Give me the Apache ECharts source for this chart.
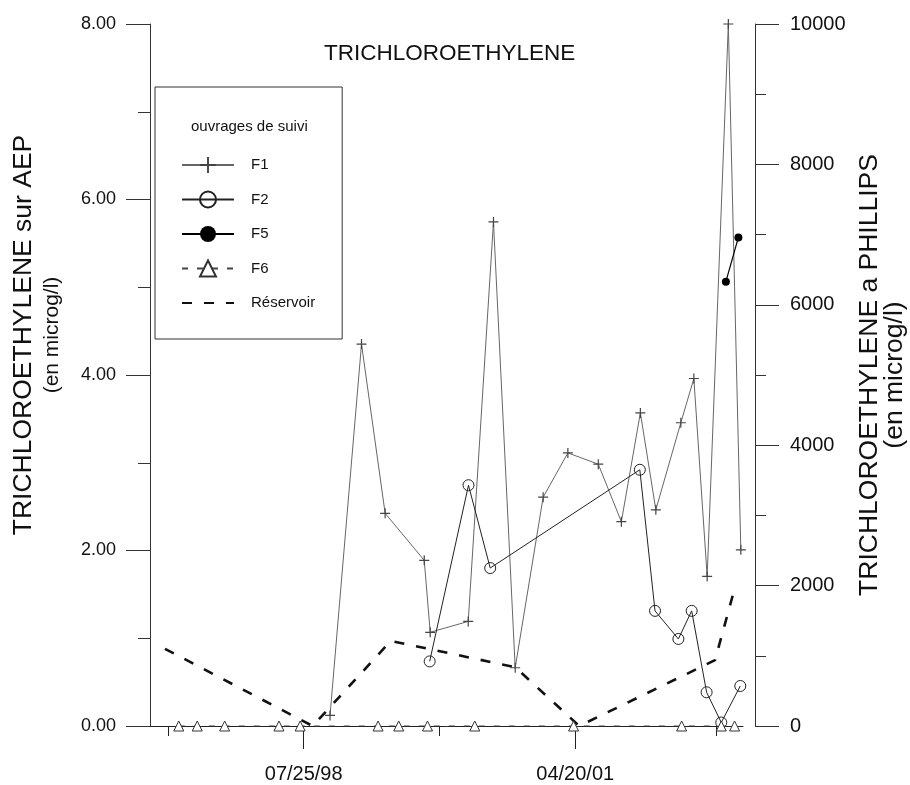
<!DOCTYPE html>
<html>
<head>
<meta charset="utf-8">
<script src="https://cdn.jsdelivr.net/npm/echarts@6/dist/echarts.min.js"></script>
<style>
  html, body { margin: 0; padding: 0; background: #fff; }
  #chart { width: 910px; height: 785px; }
</style>
</head>
<body>
<div id="chart"></div>
<script>
// Monitoring wells (µg/l, Phillips scale on the right axis)
const f1Dates = ['1998-10-30', '1999-02-23', '1999-05-21', '1999-10-12', '1999-11-03', '2000-03-22',
                 '2000-06-23', '2000-09-11', '2000-12-23', '2001-03-24', '2001-07-14', '2001-10-07',
                 '2001-12-16', '2002-02-11', '2002-05-14', '2002-07-01', '2002-08-19', '2002-11-05',
                 '2002-12-21'];
const f1Values = [150, 5440, 3030, 2360, 1335, 1490, 7180, 830, 3260, 3890, 3730, 2910,
                  4460, 3080, 4320, 4950, 2130, 10000, 2510];

const f2Dates = ['1999-11-01', '2000-03-23', '2000-06-11', '2001-12-14', '2002-02-08', '2002-05-05',
                 '2002-06-23', '2002-08-17', '2002-10-10', '2002-12-19'];
const f2Values = [920, 3430, 2250, 3650, 1640, 1240, 1640, 480, 50, 570];

const f5Dates = ['2002-10-27', '2002-12-12'];
const f5Values = [6330, 6960];

const f6Dates = ['1997-04-21', '1997-06-28', '1997-10-07', '1998-04-25', '1998-07-12', '1999-04-25',
                 '1999-07-10', '1999-10-24', '2000-04-15', '2001-04-14', '2002-05-17', '2002-10-10',
                 '2002-11-28'];
const f6Values = [0, 0, 0, 0, 0, 0, 0, 0, 0, 0, 0, 0, 0];

// Drinking-water reservoir (µg/l, AEP scale on the left axis)
const reservoirDates = ['1997-03-01', '1998-08-27', '1999-06-11', '2000-09-11', '2001-05-05',
                        '2002-09-17', '2002-12-02'];
const reservoirValues = [0.88, 0.00, 0.97, 0.67, 0.00, 0.75, 1.61];

// Date axis extent and tick positions
const axisStart = '1997-01-05';
const axisEnd = '2002-12-29';
const majorTickDates = ['1998-07-25', '2001-04-20'];
const minorTickDates = ['1997-03-12', '1999-12-07', '2002-09-22'];

// Left (AEP) and right (Phillips) scales
const leftMax = 8, leftStep = 2;
const rightMax = 10000, rightStep = 2000;

function dayNum(s) {
  const [y, m, d] = s.split('-').map(Number);
  return Date.UTC(y, m - 1, d) / 86400000;
}
function dateLabel(v) {
  const dt = new Date(Math.round(v) * 86400000);
  const p = n => String(n).padStart(2, '0');
  return p(dt.getUTCMonth() + 1) + '/' + p(dt.getUTCDate()) + '/' + p(dt.getUTCFullYear() % 100);
}
function pairs(dates, values) {
  return dates.map((d, i) => [dayNum(d), values[i]]);
}

const FONT = '"Liberation Sans", Arial, Helvetica, sans-serif';
const PLUS = 'path://M0,4.4H10V5.6H0Z M4.4,0H5.6V10H4.4Z';

const chart = echarts.init(document.getElementById('chart'), null, { renderer: 'canvas' });

const xCommon = {
  type: 'value',
  min: dayNum(axisStart),
  max: dayNum(axisEnd),
  position: 'bottom',
  splitLine: { show: false }
};

chart.setOption({
  animation: false,
  backgroundColor: '#fff',
  textStyle: { fontFamily: FONT },
  title: [
    {
      text: 'TRICHLOROETHYLENE',
      left: 324, top: 42, padding: 0,
      textStyle: { fontFamily: FONT, fontSize: 22.5, fontWeight: 'normal', color: '#111' }
    },
    {
      text: 'ouvrages de suivi',
      left: 191, top: 119, padding: 0, z: 10,
      textStyle: { fontFamily: FONT, fontSize: 15, fontWeight: 'normal', color: '#111' }
    }
  ],
  legend: {
    orient: 'vertical',
    left: 155, top: 87,
    padding: [70, 27, 28, 26],
    itemWidth: 52, itemHeight: 20, itemGap: 17.5,
    backgroundColor: '#fff',
    borderColor: '#333', borderWidth: 1,
    textStyle: { fontFamily: FONT, fontSize: 15, color: '#111', padding: [0, 0, 0, 12] },
    data: [
      'F1', 'F2', 'F5', 'F6',
      { name: 'Réservoir', itemStyle: { color: 'transparent', borderColor: 'transparent', borderWidth: 0 } }
    ]
  },
  grid: { left: 150, right: 167, top: 24, bottom: 59, containLabel: false, outerBoundsMode: 'none' },
  xAxis: [
    Object.assign({}, xCommon, {
      axisLine: { show: true, lineStyle: { color: '#222', width: 1 } },
      axisTick: { show: true, length: 23, customValues: majorTickDates.map(dayNum), lineStyle: { color: '#222' } },
      axisLabel: {
        show: true, customValues: majorTickDates.map(dayNum), formatter: dateLabel,
        margin: 38, fontSize: 20, color: '#111', fontFamily: FONT
      }
    }),
    Object.assign({}, xCommon, {
      axisLine: { show: false },
      axisTick: { show: true, length: 10, customValues: minorTickDates.map(dayNum), lineStyle: { color: '#222' } },
      axisLabel: { show: false }
    })
  ],
  yAxis: [
    {
      type: 'value', position: 'left', min: 0, max: leftMax, interval: leftStep,
      name: '{a|TRICHLOROETHYLENE sur AEP}\n{b|(en microg/l)}',
      nameLocation: 'middle', nameRotate: 90, nameGap: 84,
      nameTextStyle: {
        padding: [0, 0, 0, 80],
        rich: {
          a: { fontFamily: FONT, fontSize: 26.5, lineHeight: 28, color: '#111' },
          b: { fontFamily: FONT, fontSize: 21, lineHeight: 28, color: '#111' }
        }
      },
      axisLine: { show: true, lineStyle: { color: '#333', width: 1 } },
      axisTick: { show: true, length: 24, lineStyle: { color: '#333' } },
      minorTick: { show: true, splitNumber: 2, length: 12, lineStyle: { color: '#333' } },
      axisLabel: { formatter: v => v.toFixed(2), margin: 34, fontSize: 18, color: '#111', fontFamily: FONT },
      splitLine: { show: false }
    },
    {
      type: 'value', position: 'right', offset: 12, min: 0, max: rightMax, interval: rightStep,
      name: '{a|TRICHLOROETHYLENE a PHILLIPS}\n{b|(en microg/l)}',
      nameLocation: 'middle', nameRotate: 90, nameGap: 100,
      nameTextStyle: {
        rich: {
          a: { fontFamily: FONT, fontSize: 26.5, lineHeight: 25, color: '#111' },
          b: { fontFamily: FONT, fontSize: 26.5, lineHeight: 25, color: '#111' }
        }
      },
      axisLine: { show: true, lineStyle: { color: '#333', width: 1 } },
      axisTick: { show: true, length: 24, lineStyle: { color: '#333' } },
      minorTick: { show: true, splitNumber: 2, length: 11, lineStyle: { color: '#333' } },
      axisLabel: { formatter: v => String(v), margin: 35, fontSize: 20, color: '#111', fontFamily: FONT },
      splitLine: { show: false }
    }
  ],
  series: [
    {
      name: 'F1', type: 'line', xAxisIndex: 0, yAxisIndex: 1,
      data: pairs(f1Dates, f1Values),
      symbol: PLUS, symbolSize: 10, showAllSymbol: true,
      itemStyle: { color: '#444' },
      lineStyle: { color: '#666', width: 1 },
      z: 3
    },
    {
      name: 'F2', type: 'line', xAxisIndex: 0, yAxisIndex: 1,
      data: pairs(f2Dates, f2Values),
      symbol: 'circle', symbolSize: 11, showAllSymbol: true,
      itemStyle: { color: 'transparent', borderColor: '#222', borderWidth: 1 },
      lineStyle: { color: '#222', width: 1 },
      z: 4
    },
    {
      name: 'F5', type: 'line', xAxisIndex: 0, yAxisIndex: 1,
      data: pairs(f5Dates, f5Values),
      symbol: 'circle', symbolSize: 8, showAllSymbol: true,
      itemStyle: { color: '#000' },
      lineStyle: { color: '#000', width: 1.2 },
      z: 5
    },
    {
      name: 'F6', type: 'line', xAxisIndex: 0, yAxisIndex: 1,
      data: pairs(f6Dates, f6Values),
      symbol: 'triangle', symbolSize: 10, showAllSymbol: true,
      itemStyle: { color: '#fff', borderColor: '#333', borderWidth: 1 },
      lineStyle: { color: '#444', width: 1, type: [6, 9] },
      z: 4
    },
    {
      name: 'Réservoir', type: 'line', xAxisIndex: 0, yAxisIndex: 0,
      data: pairs(reservoirDates, reservoirValues),
      symbol: 'none',
      itemStyle: { color: '#111' },
      lineStyle: { color: '#111', width: 2.6, type: [10, 12] },
      z: 2
    }
  ]
});
</script>
</body>
</html>
